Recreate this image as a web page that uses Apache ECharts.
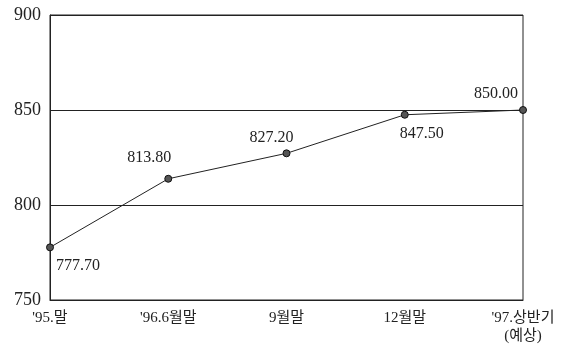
<!DOCTYPE html>
<html>
<head>
<meta charset="utf-8">
<script src="https://cdn.jsdelivr.net/npm/echarts@6/dist/echarts.min.js"></script>
<style>
html,body{margin:0;padding:0;background:#fff;}
#c{width:561px;height:346px;}
</style>
</head>
<body>
<div id="c"></div>
<script>
var categories = ["'95.말", "'96.6월말", "9월말", "12월말", "'97.상반기\n(예상)"];
var values = [777.70, 813.80, 827.20, 847.50, 850.00];
var valueLabels = ["777.70", "813.80", "827.20", "847.50", "850.00"];
var labelOffsets = [[28, 18], [-19, -21], [-15, -16], [17, 19], [-27, -16]];

var serif = "'Liberation Serif', 'DejaVu Serif', 'Noto Sans CJK KR', serif";
var chart = echarts.init(document.getElementById('c'));
chart.setOption({
  animation: false,
  backgroundColor: '#fff',
  grid: { left: 50, top: 15, right: 38, bottom: 46, show: true, borderColor: '#222', borderWidth: 1, backgroundColor: 'transparent' },
  xAxis: {
    type: 'category',
    data: categories,
    boundaryGap: false,
    axisLine: { show: true, lineStyle: { color: '#222', width: 1 } },
    axisTick: { show: false },
    splitLine: { show: false },
    axisLabel: { color: '#222', fontFamily: serif, fontSize: 15, margin: 9, lineHeight: 18 }
  },
  yAxis: {
    type: 'value',
    min: 750, max: 900, interval: 50,
    axisLine: { show: true, lineStyle: { color: '#222', width: 1 } },
    axisTick: { show: false },
    splitLine: { show: true, lineStyle: { color: '#222', width: 1 } },
    axisLabel: { color: '#222', fontFamily: serif, fontSize: 18, margin: 9 }
  },
  series: [{
    type: 'line',
    data: values.map(function (v, i) {
      return {
        value: v,
        label: {
          show: true,
          position: 'inside',
          offset: labelOffsets[i],
          formatter: valueLabels[i]
        }
      };
    }),
    symbol: 'circle',
    symbolSize: 7,
    lineStyle: { color: '#222', width: 1 },
    itemStyle: { color: '#555', borderColor: '#111', borderWidth: 1 },
    label: { color: '#222', fontFamily: serif, fontSize: 16, align: 'center', verticalAlign: 'middle' }
  }]
});
</script>
</body>
</html>
